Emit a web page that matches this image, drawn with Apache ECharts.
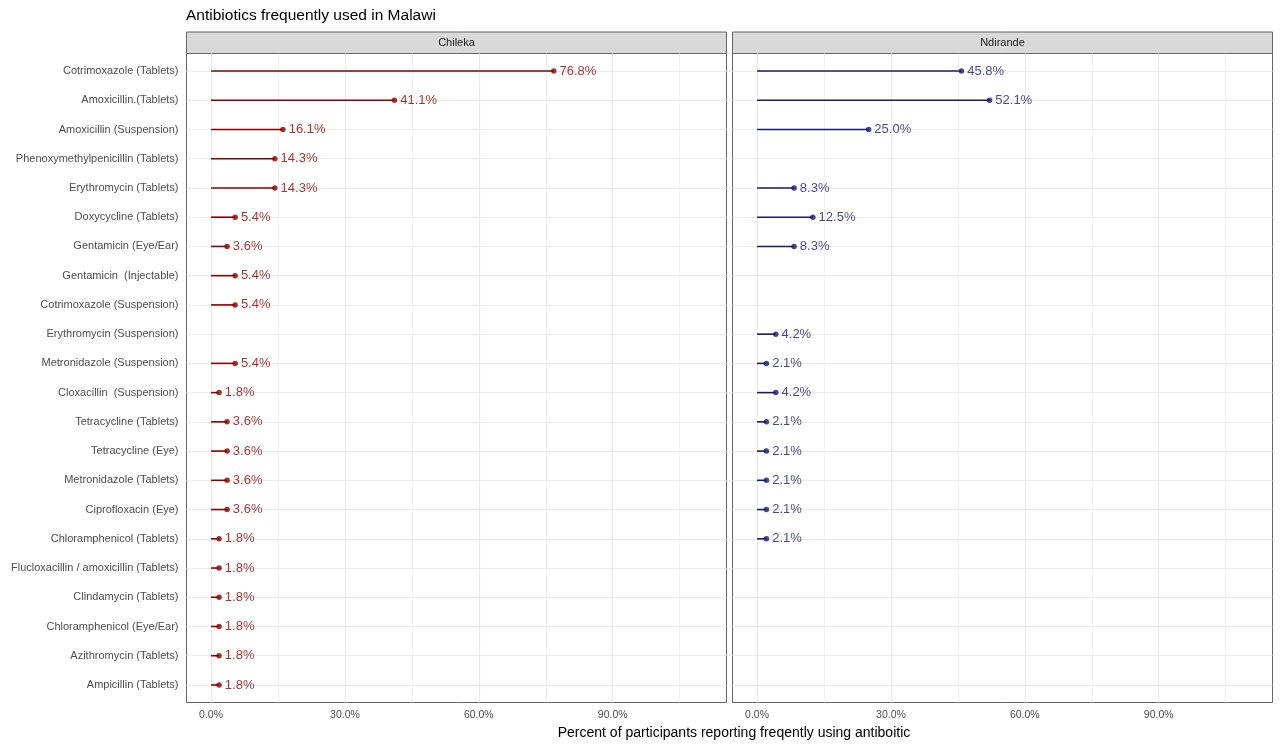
<!DOCTYPE html>
<html>
<head>
<meta charset="utf-8">
<script src="https://cdn.jsdelivr.net/npm/echarts@6/dist/echarts.min.js"></script>
<style>
html,body{margin:0;padding:0;background:#fff;}
#main{width:1280px;height:745px;}
</style>
</head>
<body>
<div id="main"></div>
<script>
// data
var antibiotics = [
  'Cotrimoxazole (Tablets)', 'Amoxicillin.(Tablets)', 'Amoxicillin (Suspension)',
  'Phenoxymethylpenicillin (Tablets)', 'Erythromycin (Tablets)', 'Doxycycline (Tablets)',
  'Gentamicin (Eye/Ear)', 'Gentamicin  (Injectable)', 'Cotrimoxazole (Suspension)',
  'Erythromycin (Suspension)', 'Metronidazole (Suspension)', 'Cloxacillin  (Suspension)',
  'Tetracycline (Tablets)', 'Tetracycline (Eye)', 'Metronidazole (Tablets)',
  'Ciprofloxacin (Eye)', 'Chloramphenicol (Tablets)', 'Flucloxacillin / amoxicillin (Tablets)',
  'Clindamycin (Tablets)', 'Chloramphenicol (Eye/Ear)', 'Azithromycin (Tablets)', 'Ampicillin (Tablets)'
];
var chileka = [76.8, 41.1, 16.1, 14.3, 14.3, 5.4, 3.6, 5.4, 5.4, null, 5.4,
  1.8, 3.6, 3.6, 3.6, 3.6, 1.8, 1.8, 1.8, 1.8, 1.8, 1.8];
var ndirande = [45.8, 52.1, 25.0, null, 8.3, 12.5, 8.3, null, null, 4.2, 2.1,
  4.2, 2.1, 2.1, 2.1, 2.1, 2.1, null, null, null, null, null];
var sites = ['Chileka', 'Ndirande'];
var siteValues = [chileka, ndirande];
var siteColors = ['#8B0000', '#191970'];
var xBreaks = [0, 30, 60, 90];
var xMinorBreaks = [15, 45, 75, 105];

// panel geometry
var panelLeft = [186.5, 732.5];
var panelWidth = 540;
var panelTop = 53.5;
var panelHeight = 649;
var stripTop = 32;

var rowIndex = antibiotics.map(function(n, i){ return i; });

var grids = [], xAxes = [], yAxes = [], series = [], graphics = [];

for (var p = 0; p < sites.length; p++) {
  grids.push({
    left: panelLeft[p], top: panelTop, width: panelWidth, height: panelHeight,
    show: true, backgroundColor: '#fff', borderColor: '#666666', borderWidth: 1
  });
  xAxes.push({
    type: 'value', gridIndex: p, min: -5.5, max: 115.5,
    axisLine: {show: false},
    splitLine: {show: false},
    axisTick: {show: true, customValues: xBreaks, length: 4, lineStyle: {color: '#333333'}},
    axisLabel: {
      customValues: xBreaks, margin: 7, fontSize: 10.5, color: '#4D4D4D',
      formatter: function(v){ return v.toFixed(1) + '%'; }
    }
  });
  yAxes.push({
    type: 'value', gridIndex: p, inverse: true, min: -0.6, max: 21.6,
    axisLine: {show: false},
    splitLine: {show: false},
    axisTick: {show: p === 0, customValues: rowIndex, length: 4, lineStyle: {color: '#333333'}},
    axisLabel: {
      show: p === 0, customValues: rowIndex, margin: 8, fontSize: 11, color: '#4D4D4D',
      formatter: function(v){ return antibiotics[Math.round(v)]; }
    }
  });

  var pts = [];
  siteValues[p].forEach(function(v, i){
    if (v !== null) pts.push([v, i]);
  });

  // grid lines
  var gl = [];
  xMinorBreaks.forEach(function(v){ gl.push({xAxis: v, lineStyle: {width: 0.7}}); });
  xBreaks.forEach(function(v){ gl.push({xAxis: v}); });
  rowIndex.forEach(function(i){ gl.push({yAxis: i}); });
  series.push({
    type: 'scatter', xAxisIndex: p, yAxisIndex: p, data: [], z: 1, silent: true,
    markLine: {
      z: 1, silent: true, symbol: 'none', animation: false,
      label: {show: false},
      lineStyle: {color: '#EBEBEB', width: 1.2, type: 'solid'},
      data: gl
    }
  });

  (function(color){
    series.push({
      type: 'custom', xAxisIndex: p, yAxisIndex: p, z: 6,
      encode: {x: 0, y: 1},
      renderItem: function(params, api){
        var a = api.coord([0, api.value(1)]);
        var b = api.coord([api.value(0), api.value(1)]);
        return {
          type: 'line',
          shape: {x1: a[0], y1: a[1], x2: b[0], y2: b[1]},
          style: {stroke: color, lineWidth: 1.6}
        };
      },
      data: pts
    });
    series.push({
      type: 'scatter', xAxisIndex: p, yAxisIndex: p, z: 7,
      symbolSize: 5.5,
      itemStyle: {color: color},
      label: {
        show: true, position: 'right', distance: 3,
        fontSize: 13, color: color,
        formatter: function(d){ return d.value[0].toFixed(1) + '%'; }
      },
      data: pts
    });
  })(siteColors[p]);

  // facet strip
  graphics.push({
    type: 'rect',
    shape: {x: panelLeft[p], y: stripTop, width: panelWidth, height: panelTop - stripTop},
    style: {fill: '#D9D9D9', stroke: '#666666', lineWidth: 1}
  });
  graphics.push({
    type: 'text', x: panelLeft[p] + panelWidth / 2, y: (stripTop + panelTop) / 2,
    style: {
      text: sites[p], fill: '#1A1A1A', fontSize: 11,
      fontFamily: 'Liberation Sans', textAlign: 'center', textVerticalAlign: 'middle'
    }
  });
}

var chart = echarts.init(document.getElementById('main'));
chart.setOption({
  animation: false,
  textStyle: {fontFamily: 'Liberation Sans'},
  title: [{
    text: 'Antibiotics frequently used in Malawi',
    left: 181, top: 3,
    textStyle: {fontSize: 15.5, fontWeight: 'normal', color: '#000'}
  }, {
    text: 'Percent of participants reporting freqently using antiboitic',
    left: 729, top: 721, textAlign: 'center',
    textStyle: {fontSize: 14, fontWeight: 'normal', color: '#000'}
  }],
  grid: grids,
  xAxis: xAxes,
  yAxis: yAxes,
  series: series,
  graphic: graphics
});
</script>
</body>
</html>
